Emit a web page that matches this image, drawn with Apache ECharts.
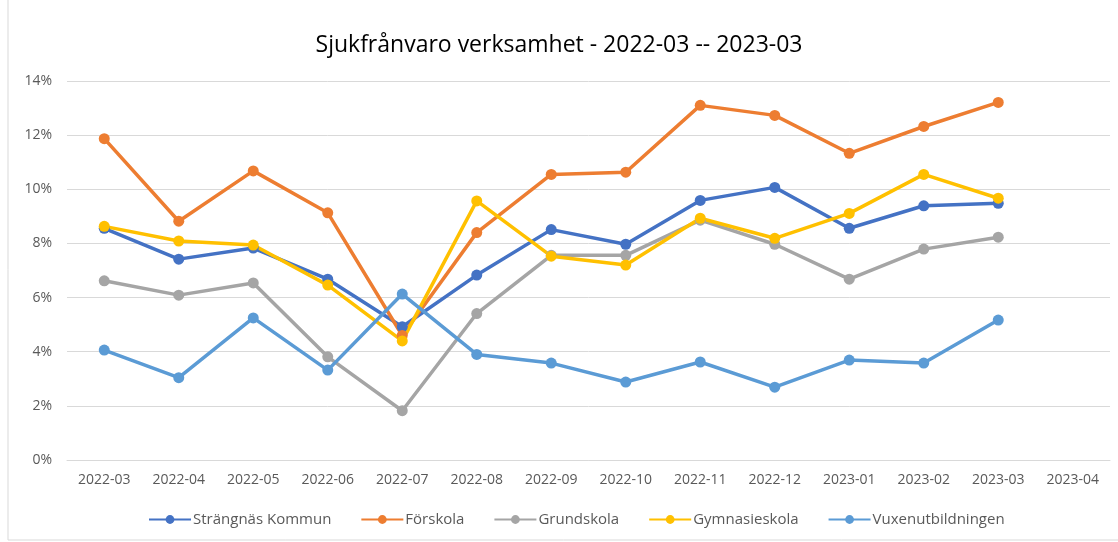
<!DOCTYPE html>
<html>
<head>
<meta charset="utf-8">
<script src="https://cdn.jsdelivr.net/npm/echarts@6/dist/echarts.min.js"></script>
<style>
  html, body { margin: 0; padding: 0; background: #fff; }
  #chart { width: 1118px; height: 542px; }
</style>
</head>
<body>
<div id="chart"></div>
<script>
// månader på x-axeln
var months = ['2022-03','2022-04','2022-05','2022-06','2022-07','2022-08','2022-09',
  '2022-10','2022-11','2022-12','2023-01','2023-02','2023-03','2023-04'];

// sjukfrånvaro i procent per verksamhet
var strangnas = [8.56, 7.42, 7.83, 6.68, 4.92, 6.83, 8.51, 7.97, 9.59, 10.07, 8.56, 9.39, 9.48];
var forskola = [11.87, 8.82, 10.68, 9.13, 4.6, 8.40, 10.55, 10.63, 13.1, 12.73, 11.33, 12.32, 13.21];
var grundskola = [6.62, 6.09, 6.54, 3.81, 1.82, 5.41, 7.56, 7.56, 8.86, 7.97, 6.68, 7.79, 8.23];
var gymnasieskola = [8.63, 8.09, 7.94, 6.46, 4.40, 9.57, 7.53, 7.2, 8.93, 8.19, 9.11, 10.55, 9.67];
var vuxen = [4.06, 3.04, 5.25, 3.32, 6.13, 3.90, 3.58, 2.88, 3.62, 2.69, 3.69, 3.58, 5.17];

var yTicks = [0, 2, 4, 6, 8, 10, 12, 14];

var chart = echarts.init(document.getElementById('chart'));

function mkSeries(name, data, color) {
  return {
    name: name,
    type: 'line',
    data: data,
    symbol: 'circle',
    symbolSize: 11,
    lineStyle: { width: 3.5, color: color },
    itemStyle: { color: color },
    emphasis: { disabled: true }
  };
}

var font = '"Open Sans", "Liberation Sans", sans-serif';

option = {
  animation: false,
  textStyle: { fontFamily: font },
  title: {
    text: 'Sjukfrånvaro verksamhet - 2022-03 -- 2023-03',
    left: 'center',
    top: 29,
    textStyle: { fontSize: 23, fontWeight: 'normal', color: '#000', fontFamily: font }
  },
  legend: {
    bottom: 10,
    left: 143,
    itemWidth: 42,
    itemHeight: 11,
    itemGap: 29,
    textStyle: { fontSize: 15, color: '#595959', fontFamily: font, padding: [0, 0, 0, -3] },
    data: ['Strängnäs Kommun','Förskola','Grundskola','Gymnasieskola','Vuxenutbildningen']
  },
  grid: { left: 67, right: 8, top: 81, bottom: 82, containLabel: false },
  xAxis: {
    type: 'category',
    data: months,
    boundaryGap: true,
    axisLine: { show: true, lineStyle: { color: '#D9D9D9' } },
    axisTick: { show: false },
    axisLabel: { color: '#595959', fontSize: 14, margin: 13, fontFamily: font, interval: 0 }
  },
  yAxis: {
    type: 'value',
    min: yTicks[0],
    max: yTicks[yTicks.length - 1],
    interval: 2,
    axisLine: { show: false },
    axisTick: { show: false },
    axisLabel: { color: '#595959', fontSize: 14, margin: 15, formatter: '{value}%', fontFamily: font },
    splitLine: { lineStyle: { color: '#D9D9D9', width: 1 } }
  },
  graphic: [{
    type: 'rect',
    shape: { x: 8, y: -2, width: 1200, height: 542 },
    style: { fill: 'none', stroke: '#D9D9D9', lineWidth: 1 },
    silent: true
  }],
  series: [
    mkSeries('Strängnäs Kommun', strangnas, '#4472C4'),
    mkSeries('Förskola', forskola, '#ED7D31'),
    mkSeries('Grundskola', grundskola, '#A5A5A5'),
    mkSeries('Gymnasieskola', gymnasieskola, '#FFC000'),
    mkSeries('Vuxenutbildningen', vuxen, '#5B9BD5')
  ]
};

chart.setOption(option);

window.onresize = function () {
  chart.resize();
};
</script>
</body>
</html>
